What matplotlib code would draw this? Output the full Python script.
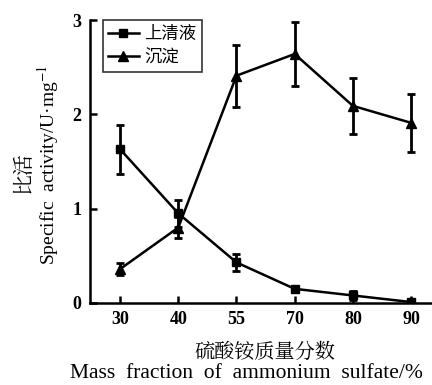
import matplotlib
matplotlib.use('Agg')
import matplotlib.pyplot as plt
from matplotlib.lines import Line2D
import numpy as np

# ammonium sulfate fractions (categorical on x)
fractions = ['30', '40', '55', '70', '80', '90']

# supernatant (上清液)
sup_mean = [1.63, 0.95, 0.43, 0.15, 0.08, 0.01]
sup_err = [0.26, 0.14, 0.09, 0.03, 0.05, 0.01]

# precipitate (沉淀)
pre_mean = [0.36, 0.80, 2.41, 2.64, 2.09, 1.91]
pre_err = [0.06, 0.11, 0.33, 0.34, 0.30, 0.31]

plt.rcParams['mathtext.fontset'] = 'stix'
serif = ['Liberation Serif', 'DejaVu Serif']
cjk = ['Noto Sans CJK SC', 'DejaVu Sans']

fig = plt.figure(figsize=(4.32, 3.85), dpi=100)
ax = fig.add_axes([0.208, 0.213, 0.792, 0.735])

x = np.arange(len(fractions))
ax.errorbar(x, sup_mean, yerr=sup_err, fmt='-s', color='black', lw=1.8,
            ms=6, elinewidth=2, capsize=3, capthick=2)
ax.errorbar(x, pre_mean, yerr=pre_err, fmt='-^', color='black', lw=1.8,
            ms=7, elinewidth=2, capsize=3, capthick=2)

ax.set_xlim(-0.52, 5.36)
ax.set_ylim(0, 3)
ax.set_xticks(x)
ax.set_xticklabels(fractions, family=serif, fontweight='bold', fontsize=13)
ax.set_yticks([0, 1, 2, 3])
ax.set_yticklabels(['0', '1', '2', '3'], family=serif, fontweight='bold', fontsize=13)
ax.tick_params(direction='in', length=5, width=1.8, pad=6)

ax.spines['top'].set_visible(False)
ax.spines['right'].set_visible(False)
ax.spines['left'].set_linewidth(1.8)
ax.spines['bottom'].set_linewidth(1.8)

handles = [Line2D([], [], color='black', marker='s', ms=6, lw=1.8),
           Line2D([], [], color='black', marker='^', ms=7, lw=1.8)]
leg = ax.legend(handles, ['上清液', '沉淀'], loc='upper left',
                bbox_to_anchor=(0.037, 1.0), frameon=True, fancybox=False,
                prop={'family': cjk, 'size': 12.5}, handlelength=1.8,
                handletextpad=0.3, borderpad=0.3, labelspacing=0.3,
                borderaxespad=0)
leg.get_frame().set_edgecolor('black')
leg.get_frame().set_linewidth(1.2)

cjk_serif = ['Noto Serif CJK SC', 'Noto Sans CJK SC', 'DejaVu Sans']
fig.text(0.053, 0.553, '比活', rotation=90, ha='center', va='center',
         family=cjk_serif, fontsize=15)
fig.text(0.111, 0.571, 'Specific  activity/U·mg$^{-1}$', rotation=90,
         ha='center', va='center', family=serif, fontsize=14)
fig.text(0.613, 0.086, '硫酸铵质量分数', ha='center', va='center',
         family=cjk_serif, fontsize=14.5)
fig.text(0.57, 0.031, 'Mass  fraction  of  ammonium  sulfate/%', ha='center',
         va='center', family=serif, fontsize=15.5)

fig.savefig('out.png', dpi=100)
